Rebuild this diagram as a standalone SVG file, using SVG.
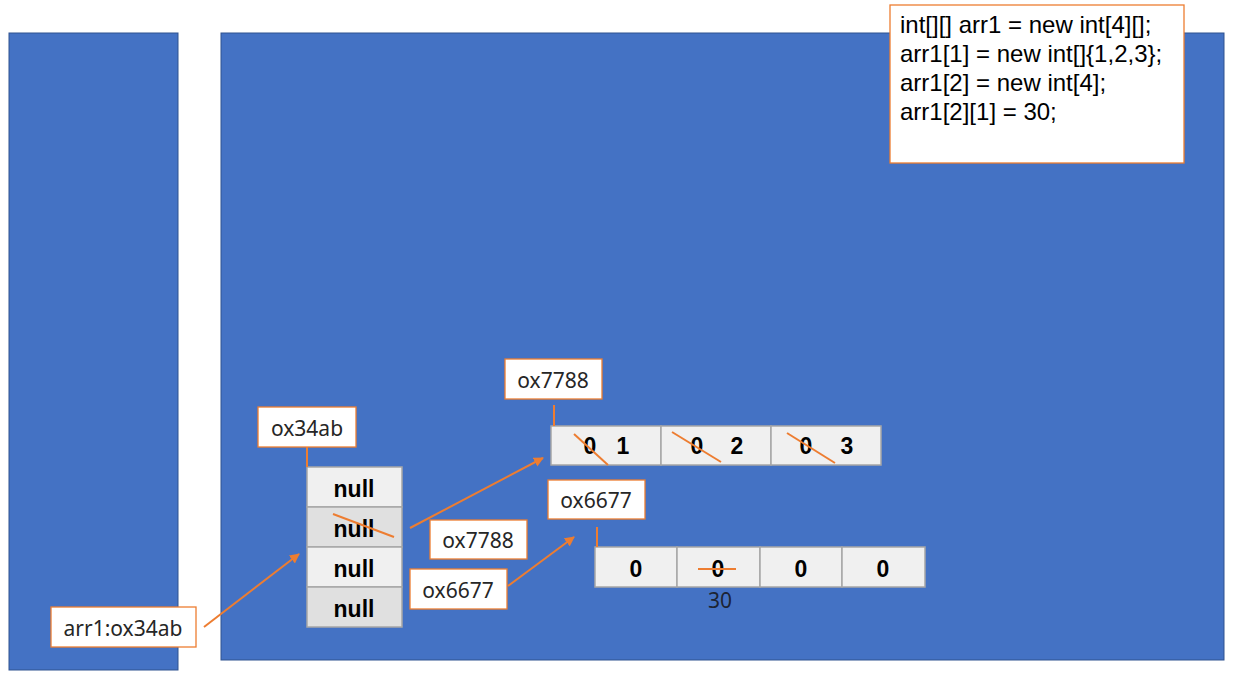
<svg xmlns="http://www.w3.org/2000/svg" width="1236" height="674" viewBox="0 0 1236 674">
<defs>
<marker id="arr" viewBox="0 0 10 10" refX="9" refY="5" markerWidth="10" markerHeight="10" markerUnits="userSpaceOnUse" orient="auto">
<path d="M0,0 L10,5 L0,10 z" fill="#ED7D31"/>
</marker>
<style>
.panel{fill:#4472C4;stroke:#2F528F;stroke-width:1}
.lbl{fill:#fff;stroke:#ED7D31;stroke-width:1.3}
.lt{font-family:"Noto Sans","Liberation Sans",sans-serif;font-size:21px;fill:#262626;text-anchor:middle}
.cell1{fill:#F0F0F0;stroke:#A6A6A6;stroke-width:1.5}
.cell2{fill:#E0E0E0;stroke:#A6A6A6;stroke-width:1.5}
.ct{font-family:"Liberation Sans",Arial,sans-serif;font-size:23px;font-weight:bold;fill:#000;text-anchor:middle}
.code{font-family:"Liberation Sans",Arial,sans-serif;font-size:24px;fill:#000}
.ol{stroke:#ED7D31;stroke-width:2;fill:none}
</style>
</defs>
<rect width="1236" height="674" fill="#fff"/>
<g id="stack-panel"><rect class="panel" x="9" y="33" width="169" height="637"/></g>
<g id="heap-panel"><rect class="panel" x="221" y="33" width="1003" height="627"/></g>
<g id="code">
<rect class="lbl" x="890" y="5" width="294" height="158"/>
<text class="code" x="900" y="33">int[][] arr1 = new int[4][];</text>
<text class="code" x="900" y="62">arr1[1] = new int[]{1,2,3};</text>
<text class="code" x="900" y="91">arr1[2] = new int[4];</text>
<text class="code" x="900" y="120">arr1[2][1] = 30;</text>
</g>
<g id="arr1-var">
<rect class="lbl" x="51" y="607" width="145" height="40"/>
<text class="lt" x="123" y="636">arr1:ox34ab</text>
</g>
<g id="outer-array">
<rect class="lbl" x="258" y="407" width="98" height="40"/>
<text class="lt" x="307" y="436">ox34ab</text>
<rect class="cell1" x="307" y="467" width="95" height="40"/>
<rect class="cell2" x="307" y="507" width="95" height="40"/>
<rect class="cell1" x="307" y="547" width="95" height="40"/>
<rect class="cell2" x="307" y="587" width="95" height="40"/>
<text class="ct" x="354" y="497">null</text>
<text class="ct" x="354" y="537">null</text>
<text class="ct" x="354" y="577">null</text>
<text class="ct" x="354" y="617">null</text>
<line class="ol" x1="333" y1="514" x2="394" y2="537"/>
</g>
<g id="inner-array-1">
<rect class="lbl" x="505" y="359" width="97" height="40"/>
<text class="lt" x="553" y="388">ox7788</text>
<rect class="cell1" x="551" y="426" width="110" height="39"/>
<rect class="cell1" x="661" y="426" width="110" height="39"/>
<rect class="cell1" x="771" y="426" width="110" height="39"/>
<text class="ct" x="590" y="454">0</text>
<text class="ct" x="623" y="454">1</text>
<text class="ct" x="697" y="454">0</text>
<text class="ct" x="737" y="454">2</text>
<text class="ct" x="806" y="454">0</text>
<text class="ct" x="847" y="454">3</text>
<line class="ol" x1="574" y1="434" x2="608" y2="465"/>
<line class="ol" x1="672" y1="432" x2="721" y2="462"/>
<line class="ol" x1="787" y1="433" x2="835" y2="463"/>
</g>
<g id="inner-array-2">
<rect class="lbl" x="548" y="480" width="97" height="39"/>
<text class="lt" x="596" y="508">ox6677</text>
<rect class="cell1" x="595" y="547" width="82" height="40"/>
<rect class="cell1" x="677" y="547" width="83" height="40"/>
<rect class="cell1" x="760" y="547" width="82" height="40"/>
<rect class="cell1" x="842" y="547" width="83" height="40"/>
<text class="ct" x="636" y="577">0</text>
<text class="ct" x="718" y="577">0</text>
<text class="ct" x="801" y="577">0</text>
<text class="ct" x="883" y="577">0</text>
<line class="ol" x1="698" y1="569" x2="736" y2="569"/>
<text x="720" y="608" font-family="Noto Sans,Liberation Sans,sans-serif" font-size="21" fill="#1c2433" text-anchor="middle">30</text>
</g>
<g id="ref-labels">
<rect class="lbl" x="430" y="520" width="97" height="39"/>
<text class="lt" x="478" y="548">ox7788</text>
<rect class="lbl" x="410" y="569" width="97" height="40"/>
<text class="lt" x="458" y="598">ox6677</text>
</g>
<g id="connectors">
<line class="ol" x1="307" y1="447" x2="307" y2="467"/>
<line class="ol" x1="554" y1="405" x2="554" y2="426"/>
<line class="ol" x1="597" y1="527" x2="597" y2="547"/>
<line class="ol" x1="204" y1="627" x2="299" y2="554" marker-end="url(#arr)"/>
<line class="ol" x1="410" y1="528" x2="543" y2="458" marker-end="url(#arr)"/>
<line class="ol" x1="508" y1="586" x2="574" y2="537" marker-end="url(#arr)"/>
</g>
</svg>
